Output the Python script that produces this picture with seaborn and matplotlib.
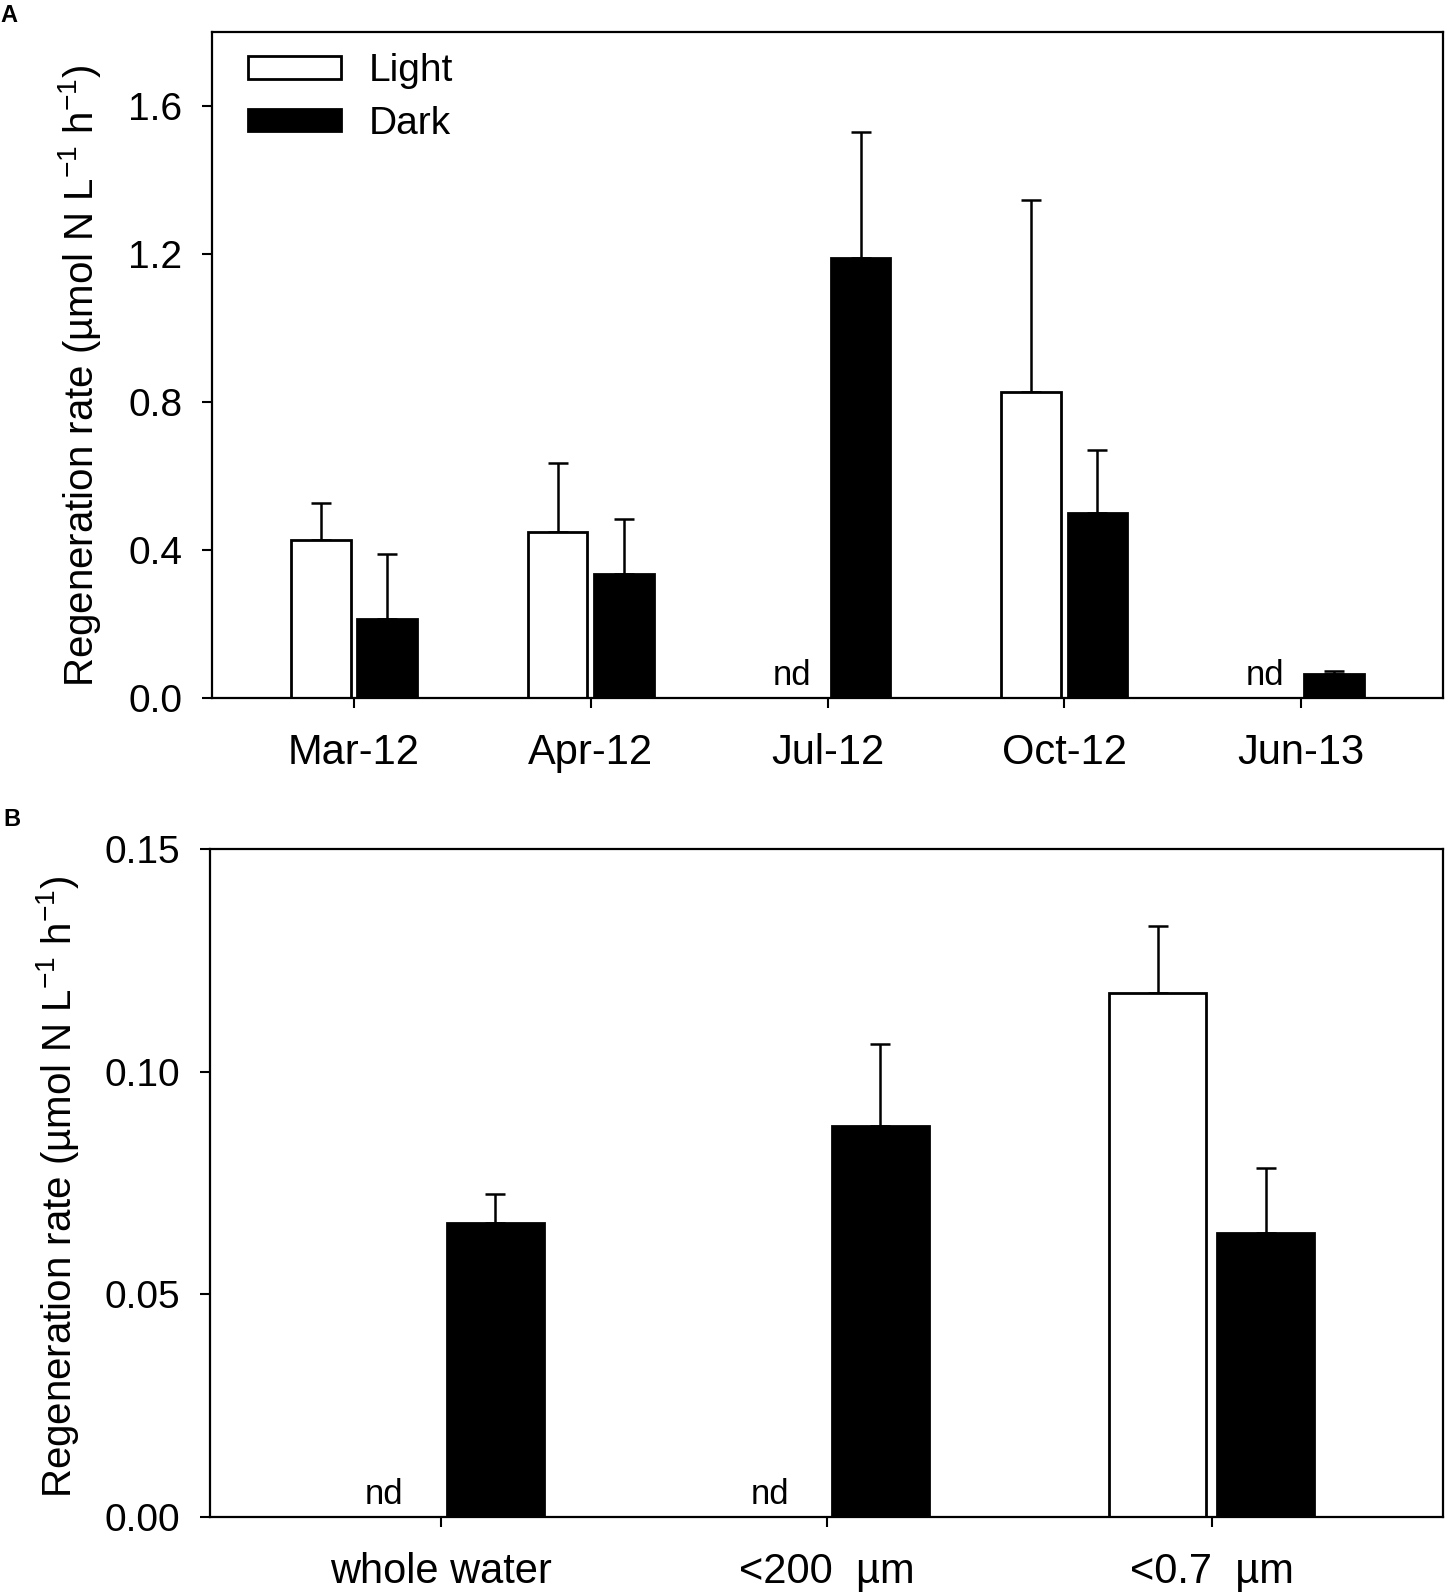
import numpy as np
import pandas as pd
import matplotlib
matplotlib.use("Agg")
import matplotlib.pyplot as plt
import seaborn as sns

# ---------------- data ----------------
treatments = ["Light", "Dark"]

months = ["Mar-12", "Apr-12", "Jul-12", "Oct-12", "Jun-13"]
light_a = [0.428, 0.450, np.nan, 0.828, np.nan]
light_a_err = [0.098, 0.184, np.nan, 0.517, np.nan]
dark_a = [0.214, 0.334, 1.189, 0.499, 0.065]
dark_a_err = [0.174, 0.151, 0.342, 0.171, 0.007]

fractions = ["whole water", "<200  \u00b5m", "<0.7  \u00b5m"]
light_b = [np.nan, np.nan, 0.1176]
light_b_err = [np.nan, np.nan, 0.0150]
dark_b = [0.0660, 0.0879, 0.0637]
dark_b_err = [0.0066, 0.0183, 0.0146]

yticks_a = [0.0, 0.4, 0.8, 1.2, 1.6]
yticks_b = [0.00, 0.05, 0.10, 0.15]

# ---------------- style ----------------
sns.set_style("ticks")
plt.rcParams["font.family"] = ["Liberation Sans", "DejaVu Sans"]
plt.rcParams["mathtext.fontset"] = "custom"
plt.rcParams["mathtext.rm"] = "Liberation Sans"
plt.rcParams["mathtext.it"] = "Liberation Sans:italic"
plt.rcParams["mathtext.bf"] = "Liberation Sans:bold"
for k in ["text.color", "axes.labelcolor", "xtick.color", "ytick.color",
          "axes.edgecolor"]:
    plt.rcParams[k] = "black"

W, H = 1447, 1593
fig = plt.figure(figsize=(W / 100, H / 100), dpi=100)

def frac_axes(l, t, r, b):
    return fig.add_axes([l / W, 1 - b / H, (r - l) / W, (b - t) / H])

axA = frac_axes(212, 32, 1443, 698)
axB = frac_axes(210, 849, 1443, 1517)

YLABEL = "Regeneration rate (\u00b5mol N L$^{\\mathregular{-1}}$ h$^{\\mathregular{-1}}$)"
BAR_W = 0.56
GAP = 0.1
OFF = BAR_W / 4


def long_df(cats, light, dark):
    return pd.DataFrame({
        "category": list(cats) * 2,
        "treatment": ["Light"] * len(cats) + ["Dark"] * len(cats),
        "rate": list(light) + list(dark),
    })


def draw(ax, cats, light, dark, light_err, dark_err, ylim, yticks, fmt, legend):
    df = long_df(cats, light, dark)
    sns.barplot(data=df, x="category", y="rate", hue="treatment",
                order=cats, hue_order=treatments,
                palette={"Light": "white", "Dark": "black"},
                edgecolor="black", linewidth=2.0, width=BAR_W, gap=GAP,
                errorbar=None, ax=ax, legend=legend, zorder=2)
    errs = [light_err, dark_err]
    for cont, e in zip(ax.containers, errs):
        for p in cont.patches:
            h = p.get_height()
            if not np.isfinite(h) or h == 0:
                continue
            xc = p.get_x() + p.get_width() / 2
            i = int(round(xc))
            if not np.isfinite(e[i]):
                continue
            ax.errorbar(xc, h, yerr=[[0], [e[i]]], fmt="none", ecolor="black",
                        elinewidth=1.8, capsize=7, capthick=1.8, zorder=1)
    # "nd" for missing light values
    for i, v in enumerate(light):
        if not np.isfinite(v):
            ax.annotate("nd", xy=(i - OFF, 0), xycoords="data",
                        xytext=(-2, 4), textcoords="offset points",
                        ha="center", va="bottom", fontsize=25, color="black")
    ax.set_xlim(-0.6, len(cats) - 0.4)
    ax.set_ylim(*ylim)
    ax.set_yticks(yticks)
    ax.set_yticklabels([fmt.format(t) for t in yticks])
    ax.set_xlabel("")
    ax.set_ylabel(YLABEL, fontsize=29, va="center", color="black")
    for s in ax.spines.values():
        s.set_visible(True)
        s.set_linewidth(1.6)
        s.set_color("black")
    ax.tick_params(axis="both", direction="out", length=7.5, width=1.5,
                   color="black", labelcolor="black", top=False, right=False)
    ax.tick_params(axis="x", labelsize=30, pad=18)
    ax.tick_params(axis="y", labelsize=28, pad=14)


draw(axA, months, light_a, dark_a, light_a_err, dark_a_err,
     (0, 1.8), yticks_a, "{:.1f}", True)
draw(axB, fractions, light_b, dark_b, light_b_err, dark_b_err,
     (0, 0.15), yticks_b, "{:.2f}", False)

axA.yaxis.set_label_coords(-0.108, 0.484)
axB.yaxis.set_label_coords(-0.124, 0.495)

# legend
old = axA.get_legend()
handles = list(old.legend_handles)
labels = [t.get_text() for t in old.get_texts()]
old.remove()
for h, c in zip(handles, ["white", "black"]):
    h.set_facecolor(c)
    h.set_edgecolor("black")
    h.set_linewidth(2.0)
axA.legend(handles, labels, loc="upper left", bbox_to_anchor=(0.029, 0.968),
           frameon=False, fontsize=28, handlelength=2.4, handleheight=0.5,
           handletextpad=0.7, labelspacing=0.42, borderpad=0, borderaxespad=0,
           labelcolor="black")

fig.text(0 / W, 1 - 4 / H, "A", fontsize=17, fontweight="bold", ha="left", va="top")
fig.text(3 / W, 1 - 808 / H, "B", fontsize=17, fontweight="bold", ha="left", va="top")

fig.savefig("out.png", dpi=100)
